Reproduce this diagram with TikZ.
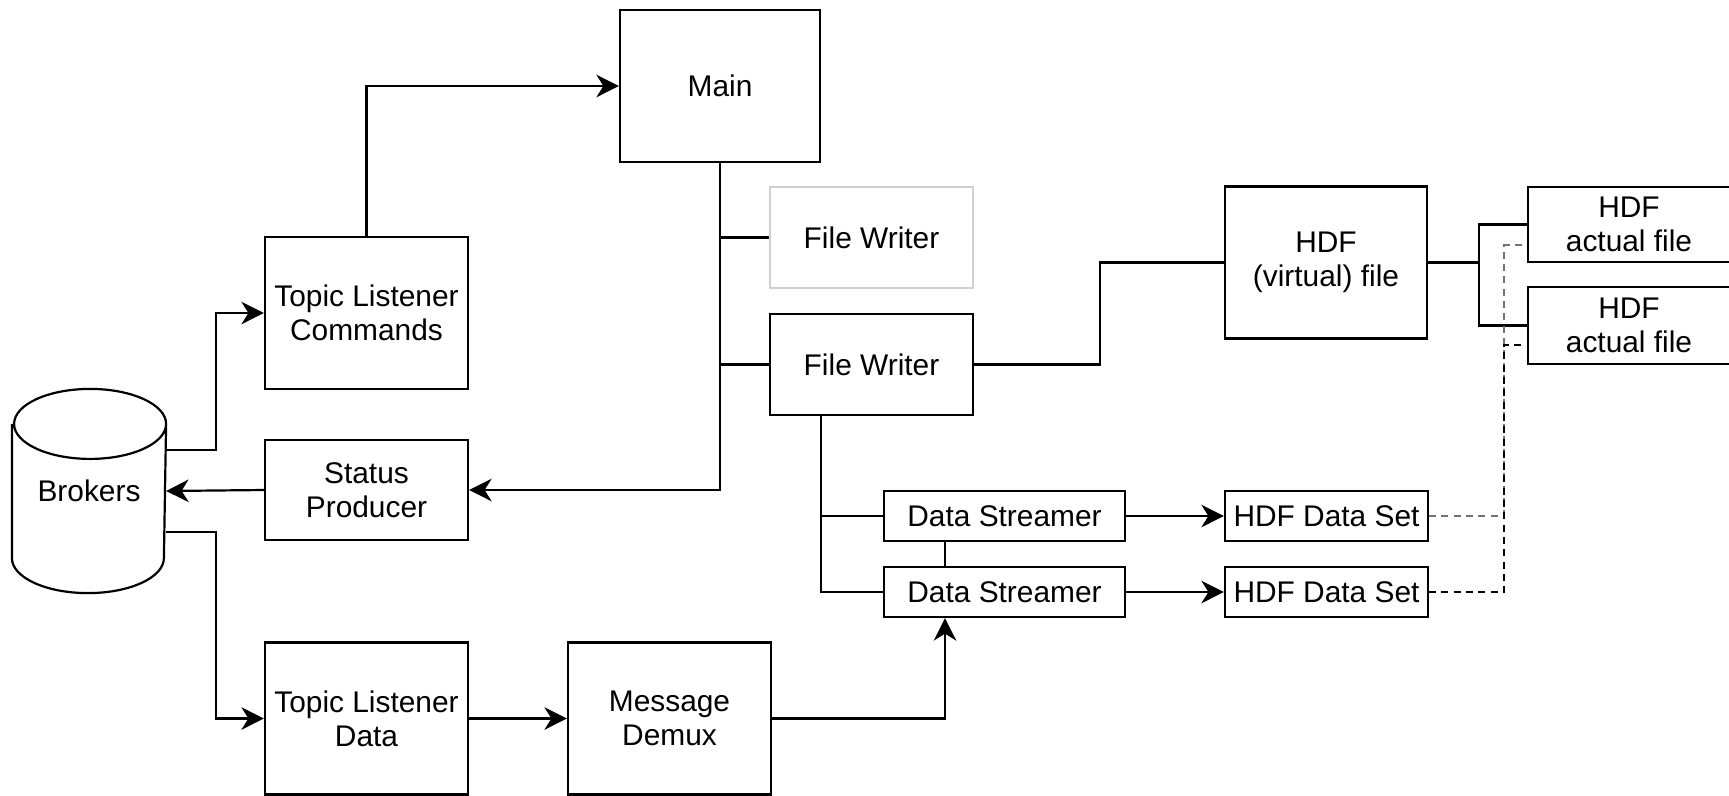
\documentclass[tikz,border=0pt]{standalone}
\usepackage{fontspec}
\setmainfont{Liberation Sans}
\usepackage{tikz}
\usetikzlibrary{arrows.meta}

\begin{document}
\begin{tikzpicture}[font=\fontsize{17}{19.4}\selectfont, line width=1.25pt]
%Declaration of styles
	\tikzstyle{box} = [rectangle, draw=black, align=center, inner sep=0pt, minimum width=4.06cm] %style for the boxes
	\tikzstyle{tall} = [box, minimum height=3.04cm] %big boxes
	\tikzstyle{flat} = [box, minimum height=2.02cm] %file writer boxes
	\tikzstyle{thin} = [box, minimum height=1.0cm] %streamer and data set boxes
	\tikzstyle{db} = [rectangle, inner sep=0pt, minimum width=3.04cm, minimum height=4.04cm] %brokers, outline drawn below
	\tikzstyle{arr} = [-{Stealth[length=0.45cm, width=0.45cm, inset=0.14cm]}] %style for the arrows
	\tikzstyle{dashlink} = [dash pattern=on 4pt off 3pt] %dashed links
	\useasboundingbox (0,0) rectangle (34.58,-15.9);
%Nodes, the elements of the graphic
	\node [db] (brokers) at (1.78,-9.82) {Brokers};
	\draw ([yshift=-0.7cm]brokers.north west) -- ([yshift=0.7cm]brokers.south west)
		arc[start angle=180, end angle=360, x radius=1.52cm, y radius=0.7cm]
		-- ([yshift=-0.7cm]brokers.north east)
		arc[start angle=0, end angle=180, x radius=1.52cm, y radius=0.7cm]
		arc[start angle=180, end angle=360, x radius=1.52cm, y radius=0.7cm]; %cylinder
	\node [tall, minimum width=4.0cm] (main) at (14.40,-1.72) {Main};
	\node [tall] (tlc) at (7.33,-6.26) {Topic Listener\\Commands};
	\node [flat, minimum height=2.0cm] (sp) at (7.33,-9.80) {Status\\Producer};
	\node [tall] (tld) at (7.33,-14.37) {Topic Listener\\Data};
	\node [tall] (md) at (13.39,-14.37) {Message\\Demux};
	\node [flat, draw=black!18] (fwA) at (17.43,-4.75) {File Writer};
	\node [flat] (fwB) at (17.43,-7.29) {File Writer};
	\node [thin, minimum width=4.82cm] (ds1) at (20.09,-10.32) {Data Streamer};
	\node [thin, minimum width=4.82cm] (ds2) at (20.09,-11.84) {Data Streamer};
	\node [thin] (hds1) at (26.53,-10.32) {HDF Data Set};
	\node [thin] (hds2) at (26.53,-11.84) {HDF Data Set};
	\node [tall, minimum width=4.04cm] (hvf) at (26.52,-5.25) {HDF\\(virtual) file};
	\node [box, minimum height=1.5cm, minimum width=4.04cm] (haf1) at (32.58,-4.49) {HDF\\actual file};
	\node [box, minimum height=1.54cm, minimum width=4.04cm] (haf2) at (32.58,-6.51) {HDF\\actual file};
	\coordinate (fwdown) at ([xshift=-1.01cm]fwB.south);
	\coordinate (dsup) at ([xshift=-1.19cm]ds2.south);
%Connectors
	\draw [arr] ([yshift=0.82cm]brokers.east) -- ++(1.0,0) |- (tlc.west);
	\draw [arr] ([yshift=-0.82cm]brokers.east) -- ++(1.0,0) |- (tld.west);
	\draw [arr] (tlc.north) |- (main.west);
	\draw [arr] (main.south) |- (sp.east);
	\draw [arr] (sp.west) -- (brokers.east);
	\draw (main.south |- fwA.west) -- (fwA.west);
	\draw (main.south |- fwB.west) -- (fwB.west);
	\draw [arr] (tld.east) -- (md.west);
	\draw [arr] (md.east) -| (dsup);
	\draw ([xshift=-1.19cm]ds1.south) -- ([xshift=-1.19cm]ds2.north);
	\draw (fwdown) |- (ds2.west);
	\draw (fwdown |- ds1.west) -- (ds1.west);
	\draw [arr] (ds1.east) -- (hds1.west);
	\draw [arr] (ds2.east) -- (hds2.west);
	\draw (fwB.east) -- ++(2.52,0) |- (hvf.west);
	\draw (hvf.east) -- ++(1.01,0) |- (haf1.west);
	\draw (hvf.east) -- ++(1.01,0) |- (haf2.west);
	\draw [dashlink, black!55] (hds1.east) -- ++(1.5,0) |- ([yshift=-0.41cm]haf1.west);
	\draw [dashlink] (hds2.east) -- ++(1.5,0) |- ([yshift=-0.39cm]haf2.west);
\end{tikzpicture}
\end{document}
